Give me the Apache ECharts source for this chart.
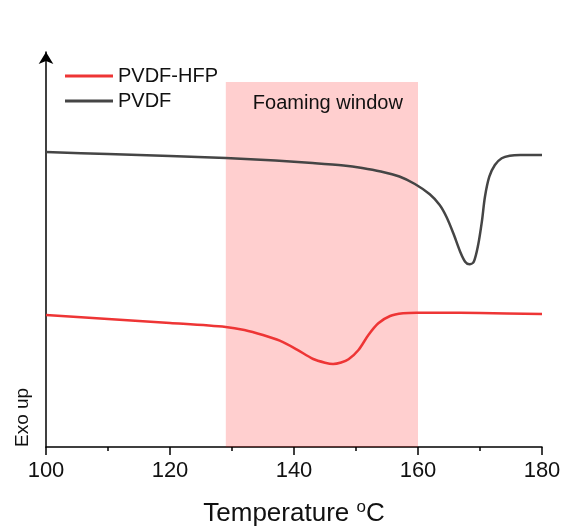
<!DOCTYPE html>
<html>
<head>
<meta charset="utf-8">
<script src="https://cdn.jsdelivr.net/npm/echarts@6/dist/echarts.min.js"></script>
<style>html,body{margin:0;padding:0;background:#fff}#c{width:564px;height:529px}</style>
</head>
<body>
<div id="c"></div>
<script>
// Temperature (°C) vs heat flow (arbitrary units, exo up)
const pvdfT = [100, 110, 120, 129, 137, 143, 148, 151, 154, 157, 159.5, 161.9, 163.5, 164.6, 165.7, 166.8, 167.6, 168.3, 169.0, 169.7, 170.3, 170.8, 171.5, 172.4, 173.5, 174.8, 176.5, 180];
const pvdfV = [295, 293, 291, 289, 286.5, 284, 281.5, 279, 275.5, 270.5, 263, 252.7, 242, 230, 213.7, 195.3, 185.3, 182.7, 185.3, 202, 225.3, 250.3, 270.3, 282, 288.7, 291.3, 292, 292];
const hfpT = [100, 110, 120, 129, 132, 135, 137.7, 140.4, 143.1, 145.0, 146.3, 147.6, 148.8, 150.4, 152.0, 153.6, 155.5, 157.6, 159.8, 163.5, 170, 180];
const hfpV = [132, 128, 124, 120, 117, 112, 106.3, 97.7, 88, 84.3, 83, 84.5, 87.7, 97, 112, 123.7, 131, 133.7, 134.3, 134.2, 134, 133];
const windowRange = [129, 160];
const windowTop = 365;
const xTicks = [100, 120, 140, 160, 180];

const zip = (a, b) => a.map((v, i) => [v, b[i]]);

const chart = echarts.init(document.getElementById('c'), null, {renderer: 'canvas'});
chart.setOption({
  backgroundColor: '#fff',
  animation: false,
  grid: {left: 46, right: 22, top: 52, bottom: 82, containLabel: false, outerBoundsMode: 'none'},
  legend: {
    left: 60, top: 61, orient: 'vertical', icon: 'rect',
    itemWidth: 48, itemHeight: 3, itemGap: 5,
    textStyle: {fontFamily: 'Liberation Sans, Arial', fontSize: 20, color: '#111', lineHeight: 20},
    data: ['PVDF-HFP', 'PVDF']
  },
  xAxis: {
    type: 'value', min: xTicks[0], max: xTicks[xTicks.length - 1], interval: 20,
    name: 'Temperature {sup|o}C', nameLocation: 'middle', nameGap: 52,
    nameTextStyle: {
      fontFamily: 'Liberation Sans, Arial', fontSize: 26, color: '#111', lineHeight: 30,
      rich: {sup: {fontFamily: 'Liberation Sans, Arial', fontSize: 17, color: '#111', lineHeight: 17, verticalAlign: 'top'}}
    },
    axisLine: {lineStyle: {color: '#000', width: 1.5}},
    axisTick: {inside: false, length: 8, lineStyle: {color: '#000', width: 1.5}},
    minorTick: {show: true, splitNumber: 2, length: 4, lineStyle: {color: '#000', width: 1.5}},
    axisLabel: {fontFamily: 'Liberation Sans, Arial', fontSize: 22, color: '#111', margin: 13},
    splitLine: {show: false}
  },
  yAxis: {
    type: 'value', min: 0, max: 395,
    axisLine: {show: true, symbol: ['none', 'arrow'], symbolSize: [11, 12], lineStyle: {color: '#000', width: 1.5}},
    axisTick: {show: false}, axisLabel: {show: false}, splitLine: {show: false}
  },
  graphic: [{
    type: 'text', left: 13, bottom: 82,
    rotation: Math.PI / 2, originX: 0, originY: 0,
    style: {text: 'Exo up', fontFamily: 'Liberation Sans, Arial', fontSize: 19, fill: '#111'}
  }],
  series: [
    {
      name: 'PVDF-HFP', type: 'line', smooth: 0.3, showSymbol: false, z: 2,
      color: '#ee3535', lineStyle: {width: 2.5, color: '#ee3535'},
      data: zip(hfpT, hfpV)
    },
    {
      name: 'PVDF', type: 'line', smooth: 0.3, showSymbol: false, z: 2,
      color: '#454545', lineStyle: {width: 2.5, color: '#454545'},
      data: zip(pvdfT, pvdfV)
    },
    {
      name: 'window', type: 'line', data: [], z: 5, silent: true,
      markArea: {
        silent: true,
        itemStyle: {color: 'rgba(255,0,0,0.19)'},
        label: {
          show: true, position: 'insideTop', distance: 11, offset: [6, 0],
          formatter: 'Foaming window',
          fontFamily: 'Liberation Sans, Arial', fontSize: 20, color: '#111'
        },
        data: [[{xAxis: windowRange[0], yAxis: 0}, {xAxis: windowRange[1], yAxis: windowTop}]]
      }
    }
  ]
});
</script>
</body>
</html>
